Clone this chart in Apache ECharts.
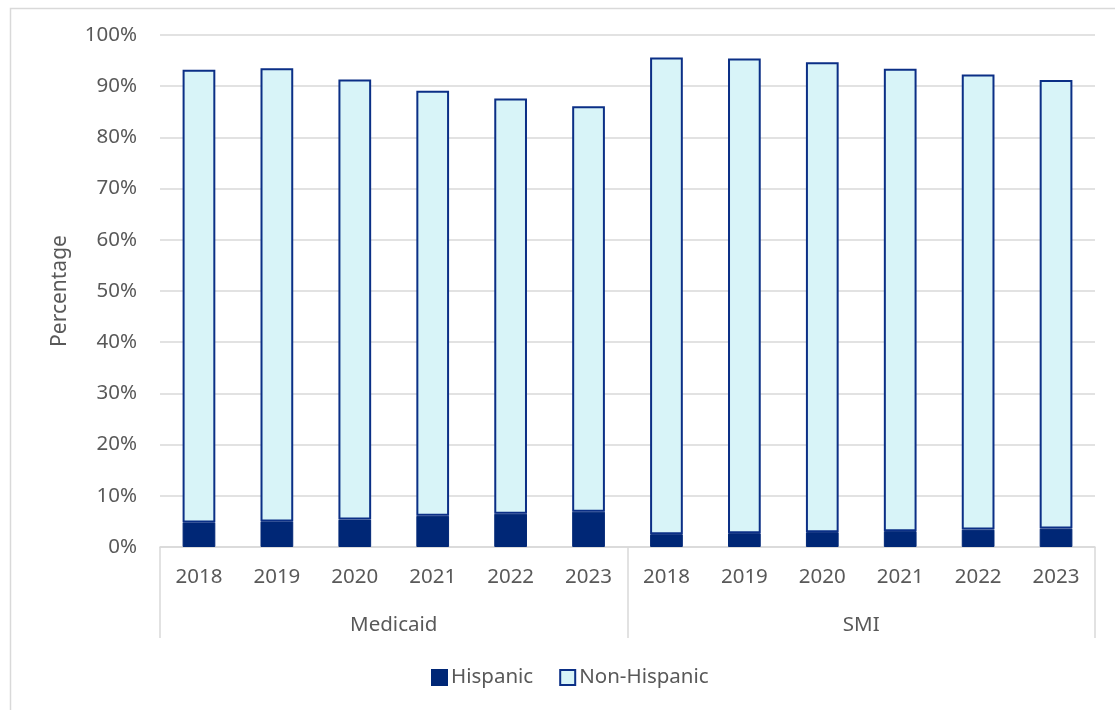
<!DOCTYPE html>
<html>
<head>
<meta charset="utf-8">
<script src="https://cdn.jsdelivr.net/npm/echarts@6/dist/echarts.min.js"></script>
<style>
html,body{margin:0;padding:0;background:#fff;}
#chart{width:1115px;height:710px;}
</style>
</head>
<body>
<div id="chart"></div>
<script>
const years = ['2018','2019','2020','2021','2022','2023','2018','2019','2020','2021','2022','2023'];
const groups = ['Medicaid','SMI'];
const hispanic = [4.8, 5.0, 5.35, 6.1, 6.5, 6.9, 2.5, 2.7, 2.9, 3.1, 3.4, 3.6];
const nonHispanic = [88.4, 88.5, 85.95, 83.0, 81.1, 79.2, 93.1, 92.7, 91.8, 90.3, 88.9, 87.6];
const yTicks = [0,10,20,30,40,50,60,70,80,90,100];

const FONT = 'Noto Sans';
const TXT = '#595959';
const GRID = '#d9d9d9';
const FS = 20.5;

const chart = echarts.init(document.getElementById('chart'));
chart.setOption({
  animation: false,
  textStyle: {fontFamily: FONT},
  graphic: [{
    type: 'rect', left: 8, top: 6,
    shape: {width: 1200, height: 800},
    style: {fill: 'none', stroke: '#d9d9d9', lineWidth: 1.5},
    silent: true
  }],
  grid: {left: 160, right: 20, top: 35, bottom: 163},
  legend: {
    bottom: 19, left: 428,
    itemWidth: 15, itemHeight: 15, itemGap: 26, padding: 3,
    icon: 'rect',
    textStyle: {fontFamily: FONT, fontSize: FS, color: TXT, padding: [0,0,0,-1]},
    data: ['Hispanic', 'Non-Hispanic']
  },
  xAxis: [{
    type: 'category', data: years, position: 'bottom',
    axisLine: {show: true, lineStyle: {color: GRID, width: 1.5}},
    axisTick: {show: false},
    axisLabel: {fontFamily: FONT, fontSize: FS, color: TXT, margin: 20, interval: 0}
  }, {
    type: 'category', data: groups, position: 'bottom',
    axisLine: {show: false},
    axisTick: {show: true, length: 91, lineStyle: {color: GRID, width: 1.5}},
    axisLabel: {fontFamily: FONT, fontSize: FS, color: TXT, margin: 68, interval: 0}
  }],
  yAxis: {
    type: 'value', min: 0, max: 100, interval: 10,
    name: 'Percentage', nameLocation: 'middle', nameGap: 89, nameRotate: 90,
    nameTextStyle: {fontFamily: FONT, fontSize: 21, color: TXT},
    axisLine: {show: false}, axisTick: {show: false},
    axisLabel: {fontFamily: FONT, fontSize: FS, color: TXT, margin: 23,
      formatter: v => yTicks.includes(v) ? v + '%' : ''},
    splitLine: {lineStyle: {color: GRID, width: 1.5}}
  },
  series: [{
    name: 'Hispanic', type: 'bar', stack: 'total', xAxisIndex: 0,
    barWidth: '42%', data: hispanic,
    itemStyle: {color: '#002776', borderColor: '#002776', borderWidth: 1}
  }, {
    name: 'Non-Hispanic', type: 'bar', stack: 'total', xAxisIndex: 0,
    barWidth: '42%', data: nonHispanic,
    itemStyle: {color: '#d8f4f8', borderColor: '#0b2f86', borderWidth: 2}
  }]
});
</script>
</body>
</html>
